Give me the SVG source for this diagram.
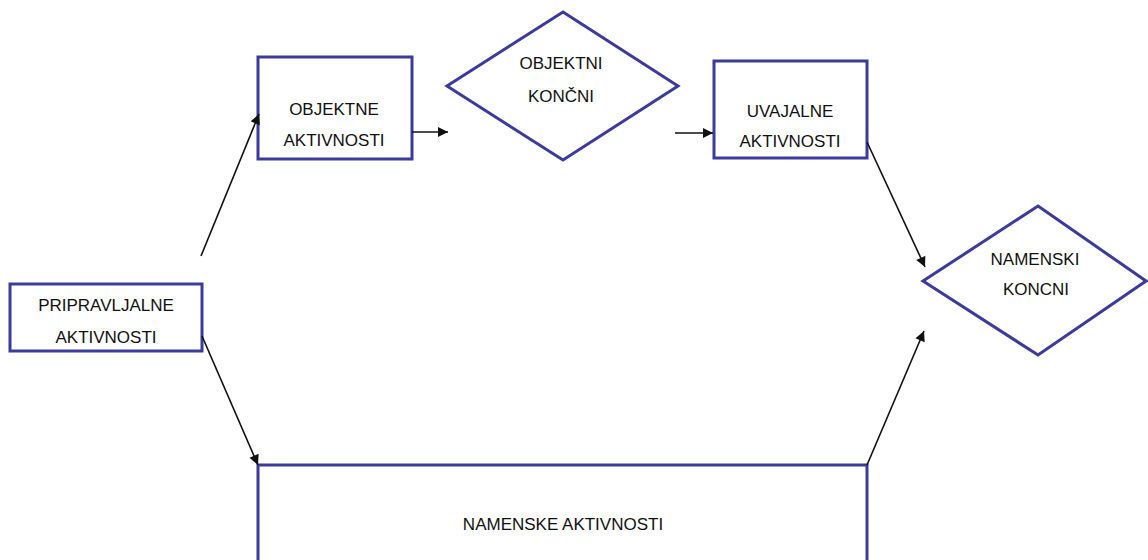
<svg xmlns="http://www.w3.org/2000/svg" width="1148" height="560" viewBox="0 0 1148 560">
  <style>
    .shape { fill: #ffffff; stroke: #3b3b9e; stroke-width: 3; }
    .label { font-family: "Liberation Sans", Arial, sans-serif; font-size: 17px; fill: #111111; text-anchor: middle; }
    .link { stroke: #111111; stroke-width: 1.6; fill: none; marker-end: url(#arrow); }
  </style>
  <defs>
    <marker id="arrow" viewBox="0 0 10 10" refX="10" refY="5" markerWidth="11" markerHeight="10" markerUnits="userSpaceOnUse" orient="auto">
      <path d="M0,0 L10,5 L0,10 z" fill="#111111"/>
    </marker>
  </defs>
  <rect width="1148" height="560" fill="#ffffff"/>

  <g id="pripravljalne">
    <rect class="shape" x="10" y="284" width="192" height="67"/>
    <text class="label" x="106" y="311">PRIPRAVLJALNE</text>
    <text class="label" x="106" y="343">AKTIVNOSTI</text>
  </g>

  <g id="objektne">
    <rect class="shape" x="258" y="57" width="154" height="102"/>
    <text class="label" x="334" y="115">OBJEKTNE</text>
    <text class="label" x="334" y="146">AKTIVNOSTI</text>
  </g>

  <g id="objektni-koncni">
    <polygon class="shape" points="563,12 678,86 563,160 447,86"/>
    <text class="label" x="561" y="69">OBJEKTNI</text>
    <text class="label" x="561" y="102">KONČNI</text>
  </g>

  <g id="uvajalne">
    <rect class="shape" x="714" y="61" width="153" height="97"/>
    <text class="label" x="790" y="117">UVAJALNE</text>
    <text class="label" x="790" y="147">AKTIVNOSTI</text>
  </g>

  <g id="namenski-koncni">
    <polygon class="shape" points="1038,206 1146,281 1038,355 923,281"/>
    <text class="label" x="1035" y="265">NAMENSKI</text>
    <text class="label" x="1036" y="295">KONCNI</text>
  </g>

  <g id="namenske">
    <rect class="shape" x="258" y="465" width="609" height="110"/>
    <text class="label" x="563" y="530">NAMENSKE AKTIVNOSTI</text>
  </g>

  <g id="connectors">
    <line class="link" x1="201" y1="256" x2="259" y2="114"/>
    <line class="link" x1="412" y1="132" x2="448" y2="132"/>
    <line class="link" x1="675" y1="133" x2="713" y2="133"/>
    <line class="link" x1="867" y1="142" x2="925" y2="267"/>
    <line class="link" x1="202" y1="336" x2="258" y2="465"/>
    <line class="link" x1="867" y1="465" x2="924" y2="331"/>
  </g>
</svg>
